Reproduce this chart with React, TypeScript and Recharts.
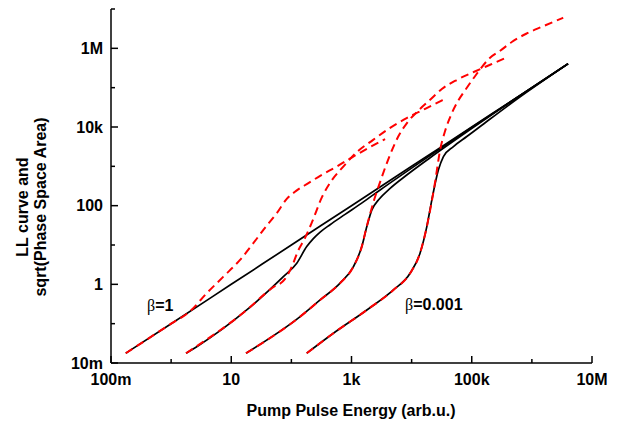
import { LineChart, Line, XAxis, YAxis } from 'recharts'

const FONT = '"Liberation Sans", Arial, Helvetica, sans-serif'

// log decades on both axes
const xTicks = [0.1, 1, 10, 100, 1e3, 1e4, 1e5, 1e6, 1e7]
const xTickLabels = ['100m', '', '10', '', '1k', '', '100k', '', '10M']
const yTicks = [0.01, 0.1, 1, 10, 100, 1e3, 1e4, 1e5, 1e6, 1e7]
const yTickLabels = ['10m', '', '1', '', '100', '', '10k', '', '1M', '']

// LL curves (solid black), x = pump pulse energy
const llBeta1 = [
  { x: 0.176, y: 0.0177 }, { x: 1, y: 0.1 }, { x: 10, y: 1 }, { x: 100, y: 10 },
  { x: 1000, y: 100 }, { x: 1e4, y: 1000 }, { x: 1e5, y: 1e4 }, { x: 1e6, y: 1e5 },
  { x: 4e6, y: 4.05e5 },
]
const llBeta01 = [
  { x: 1.77, y: 0.0177 }, { x: 2.67, y: 0.026 }, { x: 18.1, y: 0.223 }, { x: 73.6, y: 1.57 },
  { x: 123, y: 3.44 }, { x: 180, y: 9.1 }, { x: 232, y: 14.5 }, { x: 301, y: 21.2 },
  { x: 440, y: 32.8 }, { x: 782, y: 60 }, { x: 1580, y: 125 }, { x: 2990, y: 251 },
  { x: 13800, y: 1264 }, { x: 94000, y: 9130 }, { x: 4e6, y: 4.05e5 },
]
const llBeta001 = [
  { x: 17.6, y: 0.0177 }, { x: 140, y: 0.151 }, { x: 301, y: 0.401 }, { x: 646, y: 1.07 },
  { x: 1077, y: 2.82 }, { x: 1483, y: 9.1 }, { x: 1800, y: 29.4 }, { x: 2180, y: 78 },
  { x: 2800, y: 139 }, { x: 4390, y: 275 }, { x: 8300, y: 601 }, { x: 20300, y: 1655 },
  { x: 94000, y: 8610 }, { x: 300000, y: 28950 }, { x: 4e6, y: 4.05e5 },
]
const llBeta0001 = [
  { x: 180, y: 0.0177 }, { x: 500, y: 0.057 }, { x: 1800, y: 0.223 }, { x: 4980, y: 0.72 },
  { x: 9440, y: 1.91 }, { x: 13800, y: 6.2 }, { x: 17900, y: 29.4 }, { x: 21700, y: 141 },
  { x: 27900, y: 815 }, { x: 33800, y: 1770 }, { x: 49600, y: 3190 }, { x: 82800, y: 5730 },
  { x: 138000, y: 10300 }, { x: 638000, y: 58600 }, { x: 4e6, y: 4.05e5 },
]

// sqrt(phase space area) (red dashed)
const psBeta1 = [
  { x: 0.176, y: 0.0177 }, { x: 1, y: 0.1 }, { x: 2.06, y: 0.206 }, { x: 3.91, y: 0.594 },
  { x: 7.4, y: 1.57 }, { x: 14, y: 4.18 }, { x: 23.3, y: 11.1 }, { x: 34.2, y: 24.2 },
  { x: 57.2, y: 64.4 }, { x: 83.8, y: 149 }, { x: 120, y: 238 }, { x: 192, y: 374 },
  { x: 301, y: 573 }, { x: 575, y: 1000 }, { x: 1023, y: 1700 }, { x: 1890, y: 2900 },
  { x: 3620, y: 4900 },
]
const psBeta01 = [
  { x: 1.77, y: 0.0177 }, { x: 18.1, y: 0.223 }, { x: 47.7, y: 0.81 }, { x: 78.5, y: 1.37 },
  { x: 103, y: 2.94 }, { x: 129, y: 7.08 }, { x: 169, y: 15.2 }, { x: 221, y: 38.7 },
  { x: 324, y: 167 }, { x: 475, y: 453 }, { x: 724, y: 970 }, { x: 1240, y: 2340 },
  { x: 2290, y: 4720 }, { x: 4390, y: 9550 }, { x: 8410, y: 17100 }, { x: 16800, y: 29000 },
  { x: 33400, y: 49200 },
]
const psBeta001 = [
  { x: 17.6, y: 0.0177 }, { x: 140, y: 0.151 }, { x: 301, y: 0.401 }, { x: 646, y: 1.07 },
  { x: 1077, y: 2.82 }, { x: 1483, y: 9.1 }, { x: 1750, y: 25.7 }, { x: 2040, y: 61.8 },
  { x: 2380, y: 141 }, { x: 2880, y: 338 }, { x: 4060, y: 1460 }, { x: 5960, y: 5640 },
  { x: 8410, y: 12800 }, { x: 12800, y: 25800 }, { x: 20300, y: 49200 }, { x: 32200, y: 93800 },
  { x: 57200, y: 159000 }, { x: 110000, y: 254000 }, { x: 202000, y: 383000 }, { x: 404000, y: 610000 },
]
const psBeta0001 = [
  { x: 180, y: 0.0177 }, { x: 500, y: 0.057 }, { x: 1800, y: 0.223 }, { x: 4980, y: 0.72 },
  { x: 9440, y: 1.91 }, { x: 13800, y: 6.2 }, { x: 17900, y: 29.4 }, { x: 21100, y: 105 },
  { x: 24600, y: 404 }, { x: 29800, y: 2630 }, { x: 36100, y: 8000 }, { x: 45400, y: 20400 },
  { x: 59400, y: 46400 }, { x: 80700, y: 93800 }, { x: 118000, y: 213000 }, { x: 202000, y: 577000 },
  { x: 297000, y: 868000 }, { x: 470000, y: 1.47e6 }, { x: 804000, y: 2.35e6 }, { x: 1.48e6, y: 3.55e6 },
  { x: 3.32e6, y: 6.0e6 },
]

const llCurves = [llBeta1, llBeta01, llBeta001, llBeta0001]
const psCurves = [psBeta1, psBeta01, psBeta001, psBeta0001]

const MAJOR = 7
const MINOR = 4

const findLabel = (ticks: number[], labels: string[], v: number) => {
  const i = ticks.findIndex((t) => Math.abs(t - v) / t < 1e-6)
  return i >= 0 ? labels[i] : ''
}

const labelStyle = { fontFamily: FONT, fontWeight: 700, fontSize: 16, fill: '#000' }

function BottomTick({ x, y, payload }: any) {
  const label = findLabel(xTicks, xTickLabels, payload.value)
  return (
    <g>
      <line x1={x} x2={x} y1={y} y2={y - (label ? MAJOR : MINOR)} stroke="#000" strokeWidth={1.5} />
      {label && (
        <text x={x} y={y + 22} textAnchor="middle" style={labelStyle}>
          {label}
        </text>
      )}
    </g>
  )
}

function TopTick({ x, y, payload }: any) {
  const label = findLabel(xTicks, xTickLabels, payload.value)
  return <line x1={x} x2={x} y1={y} y2={y + (label ? MAJOR : MINOR)} stroke="#000" strokeWidth={1.5} />
}

function LeftTick({ x, y, payload }: any) {
  const label = findLabel(yTicks, yTickLabels, payload.value)
  return (
    <g>
      <line x1={x} x2={x + (label ? MAJOR : MINOR)} y1={y} y2={y} stroke="#000" strokeWidth={1.5} />
      {label && (
        <text x={x - 8} y={y + 5.5} textAnchor="end" style={labelStyle}>
          {label}
        </text>
      )}
    </g>
  )
}

function RightTick({ x, y, payload }: any) {
  const label = findLabel(yTicks, yTickLabels, payload.value)
  return <line x1={x} x2={x - (label ? MAJOR : MINOR)} y1={y} y2={y} stroke="#000" strokeWidth={1.5} />
}

const axisLine = { stroke: '#000', strokeWidth: 1.5 }

export default function App() {
  return (
    <div style={{ position: 'absolute', left: 0, top: 0, width: 621, height: 422, background: '#fff' }}>
      <LineChart width={621} height={422} margin={{ top: 9, right: 29, bottom: 29, left: 51 }}>
        <XAxis
          dataKey="x" type="number" scale="log" domain={[0.1, 1e7]} ticks={xTicks} interval={0}
          allowDataOverflow axisLine={axisLine} tickLine={false} tickSize={0} tickMargin={0}
          height={30} tick={<BottomTick />}
        />
        <XAxis
          xAxisId="top" orientation="top" dataKey="x" type="number" scale="log" domain={[0.1, 1e7]}
          ticks={xTicks} interval={0} allowDataOverflow axisLine={axisLine} tickLine={false}
          tickSize={0} tickMargin={0} height={0} tick={<TopTick />}
        />
        <YAxis
          type="number" scale="log" domain={[0.01, 1e7]} ticks={yTicks} interval={0}
          allowDataOverflow axisLine={axisLine} tickLine={false} tickSize={0} tickMargin={0}
          width={60} tick={<LeftTick />}
        />
        <YAxis
          yAxisId="right" orientation="right" type="number" scale="log" domain={[0.01, 1e7]}
          ticks={yTicks} interval={0} allowDataOverflow axisLine={axisLine} tickLine={false}
          tickSize={0} tickMargin={0} width={0} tick={<RightTick />}
        />
        {llCurves.map((d, i) => (
          <Line
            key={'ll' + i} data={d} dataKey="y" type="monotone" stroke="#000" strokeWidth={1.7}
            dot={false} activeDot={false} isAnimationActive={false}
          />
        ))}
        {psCurves.map((d, i) => (
          <Line
            key={'ps' + i} data={d} dataKey="y" type="monotone" stroke="#ff0000" strokeWidth={2}
            strokeDasharray="8 5" dot={false} activeDot={false} isAnimationActive={false}
          />
        ))}
      </LineChart>

      <div
        style={{
          position: 'absolute', left: 32 - 130, top: 207 - 18, width: 260, height: 36,
          transform: 'rotate(-90deg)', textAlign: 'center', fontFamily: FONT, fontWeight: 700,
          fontSize: 16, lineHeight: '18px', color: '#000',
        }}
      >
        <div>LL curve and</div>
        <div>sqrt(Phase Space Area)</div>
      </div>

      <div
        style={{
          position: 'absolute', left: 151 , top: 402, width: 400, textAlign: 'center', fontFamily: FONT,
          fontWeight: 700, fontSize: 16, lineHeight: '18px', color: '#000',
        }}
      >
        Pump Pulse Energy (arb.u.)
      </div>

      <div
        style={{
          position: 'absolute', left: 147, top: 297, fontFamily: FONT, fontWeight: 700, fontSize: 16,
          lineHeight: '18px', color: '#000', whiteSpace: 'nowrap',
        }}
      >
        <span style={{ fontFamily: '"Liberation Serif", serif', fontWeight: 400 }}>β</span>=1
      </div>
      <div
        style={{
          position: 'absolute', left: 405, top: 296, fontFamily: FONT, fontWeight: 700, fontSize: 16,
          lineHeight: '18px', color: '#000', whiteSpace: 'nowrap',
        }}
      >
        <span style={{ fontFamily: '"Liberation Serif", serif', fontWeight: 400 }}>β</span>=0.001
      </div>
    </div>
  )
}
